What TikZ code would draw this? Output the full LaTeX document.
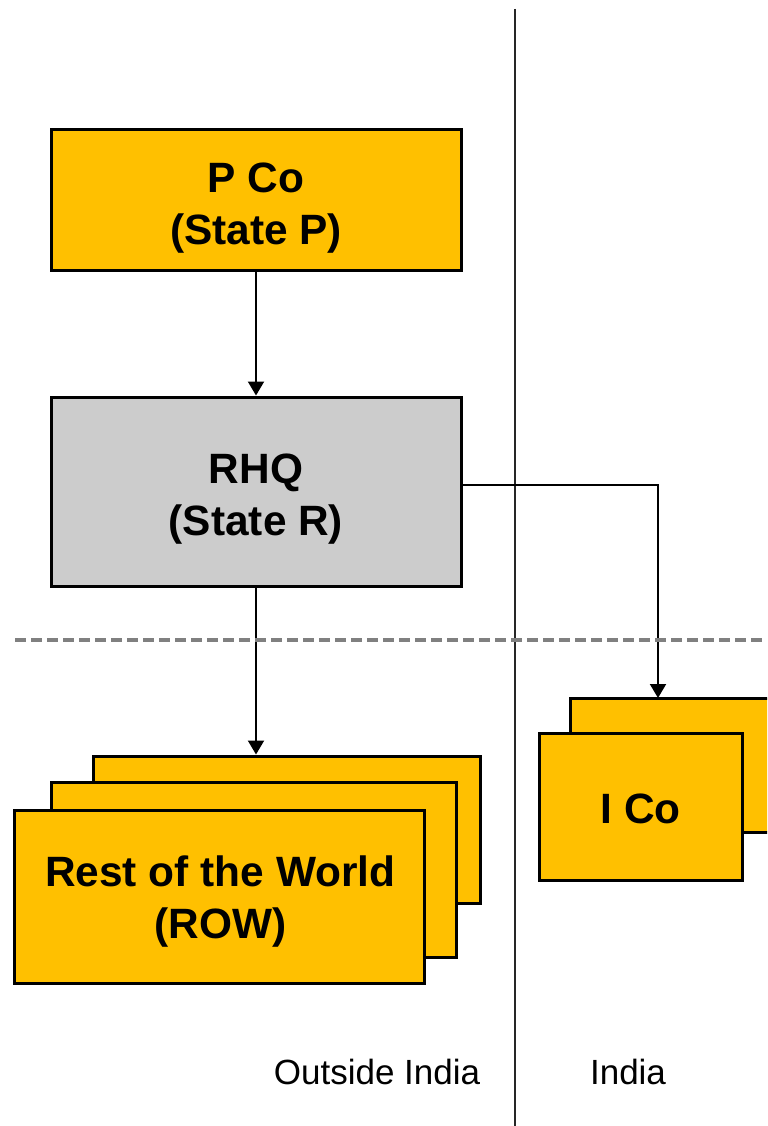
\documentclass[tikz,border=0pt]{standalone}
\usepackage{fontspec}
\setmainfont{Liberation Sans}
\usetikzlibrary{arrows.meta}
\definecolor{entityfill}{HTML}{FFC000}
\definecolor{hqfill}{HTML}{CCCCCC}
\definecolor{borderline}{HTML}{808080}
\begin{document}
\begin{tikzpicture}[x=0.75pt,y=-0.75pt,
  entity/.style={draw=black, line width=2.25pt, fill=entityfill, inner sep=0pt},
  hq/.style={entity, fill=hqfill},
  caption/.style={inner sep=0pt, align=center,
    font=\fontsize{31.8}{39}\selectfont\bfseries},
  link/.style={draw=black, line width=1.5pt, -{Triangle[width=12pt,length=10.5pt]}},
  region/.style={font=\fontsize{26.25}{30}\selectfont, inner sep=0pt}
]
\clip (0,0) rectangle (767,1126);
\fill[white] (0,0) rectangle (767,1126);

% border between the two jurisdictions
\draw[black!85, line width=1.1pt] (515,9) -- (515,1126);

% parent and regional headquarters
\node[entity, minimum width=307.5pt, minimum height=105.75pt] (pco) at (256,200.5) {};
\node[caption] (pcotext) at ([yshift=-6pt]pco.center) {P Co\\(State P)};
\node[hq, minimum width=307.5pt, minimum height=141.75pt] (rhq) at (256,491.5) {};
\node[caption] (rhqtext) at ([yshift=-6pt]rhq.center) {RHQ\\(State R)};

% stacked subsidiaries outside India
\node[entity, minimum width=290.25pt, minimum height=110.25pt] (rowback) at (286.5,829.5) {};
\node[entity, minimum width=303.75pt, minimum height=131.25pt] (rowmid) at (253.5,869.5) {};
\node[entity, minimum width=307.5pt, minimum height=129.75pt] (rowfront) at (219,896.5) {};
\node[caption] (rowtext) at ([xshift=1pt,yshift=-4pt]rowfront.center) {Rest of the World\\(ROW)};

% stacked Indian companies
\node[entity, minimum width=172.5pt, minimum height=100.5pt] (icoback) at (685,765) {};
\node[entity, minimum width=152.25pt, minimum height=110.25pt] (icofront) at (640.5,806.5) {};
\node[caption] (icotext) at ([yshift=-1.5pt]icofront.center) {I Co};

% ownership links
\coordinate (rhqout) at (463,485);
\coordinate (icoin) at (658,698);
\draw[link] (pco.south) -- (rhq.north);
\draw[link] (rhq.south) -- (rhq.south |- rowback.north);
\draw[link] (rhqout) -| (icoin);

% dashed divider below the holding tier
\draw[borderline, line width=3pt, dash pattern=on 8.25pt off 3.75pt] (15,640) -- (765,640);

% region labels
\node[region] (outside) at (377,1072) {Outside India};
\node[region] (india) at (628,1072) {India};
\end{tikzpicture}
\end{document}
